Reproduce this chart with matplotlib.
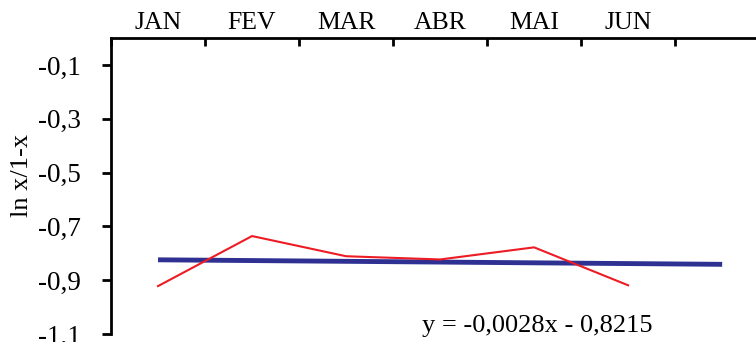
import numpy as np
import matplotlib.pyplot as plt
from matplotlib.ticker import FixedLocator, NullFormatter

# Data
months = ["JAN", "FEV", "MAR", "ABR", "MAI", "JUN"]
ln_ratio = [-0.922, -0.736, -0.811, -0.823, -0.778, -0.919]
# linear trend, as printed on the chart, extended one period forward
slope = -0.0028
intercept = -0.8215
trend_periods = 7
y_ticks = [-0.1, -0.3, -0.5, -0.7, -0.9, -1.1]

plt.rcParams['font.family'] = ['Liberation Serif', 'DejaVu Serif']

W, H = 756, 342
fig = plt.figure(figsize=(W / 100, H / 100), dpi=100)
ax = fig.add_axes([111 / W, 1 - 334 / H, 1 - 111 / W, (334 - 38) / H])

x = np.arange(1, len(months) + 1)
xt = np.arange(1, trend_periods + 1)
ax.plot(xt, slope * xt + intercept, color='#2E3192', lw=3.5, solid_capstyle='butt', zorder=2)
ax.plot(x, ln_ratio, color='#ED1C24', lw=1.5, zorder=3)

ax.set_xlim(0.5, 7.36)
ax.set_ylim(-1.1, 0)

# x axis on top, category labels between the tick marks
ax.xaxis.tick_top()
ax.set_xticks(x)
ax.set_xticklabels(months, fontsize=18.5)
ax.xaxis.set_minor_locator(FixedLocator(np.arange(0.5, trend_periods, 1.0)))
ax.xaxis.set_minor_formatter(NullFormatter())
ax.tick_params(axis='x', which='major', length=0, pad=3)
ax.tick_params(axis='x', which='minor', direction='in', length=6, width=2, top=True, bottom=False)

ax.set_yticks(y_ticks)
ax.set_yticklabels([f"{v:.1f}".replace('.', ',') for v in y_ticks], fontsize=19.5)
ax.tick_params(axis='y', direction='out', length=6.5, width=2, pad=15)

for side in ['right', 'bottom']:
    ax.spines[side].set_visible(False)
for side in ['left', 'top']:
    ax.spines[side].set_linewidth(2)

fig.text(22 / W, 1 - 175 / H, "ln x/1-x", fontsize=19, rotation=90, ha='center', va='center')

ax.text(3.81, -1.093, "y = -0,0028x - 0,8215", fontsize=19, va='baseline')

fig.savefig("out.png", dpi=100)
